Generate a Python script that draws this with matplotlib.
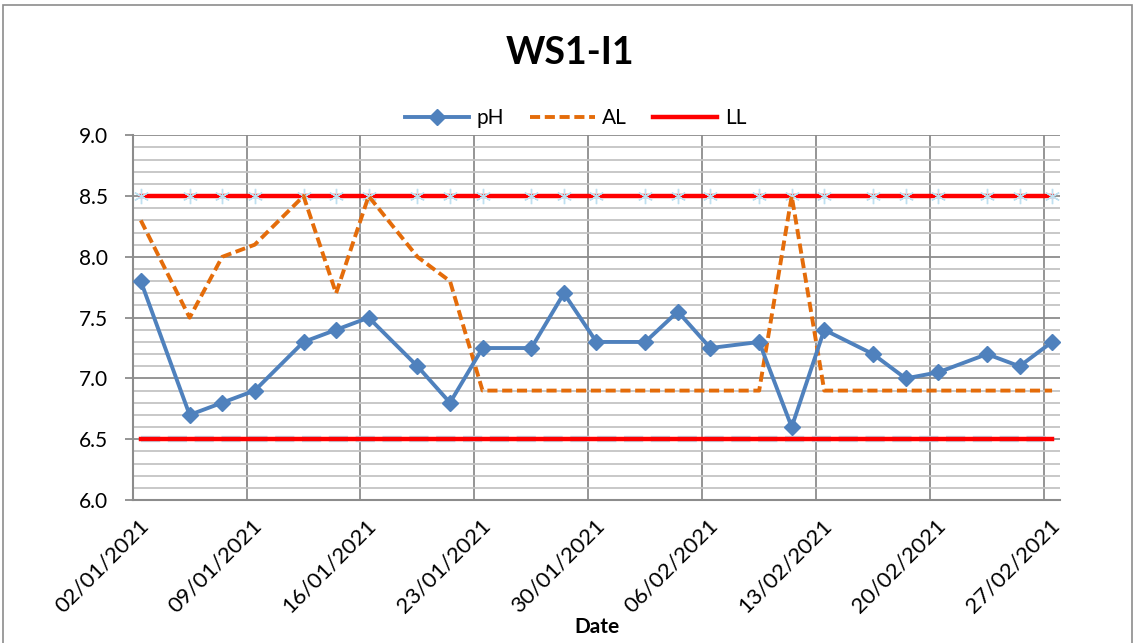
"""WS1-I1 pH record against the action level and the upper/lower limits."""

import numpy as np
import pandas as pd
import matplotlib
matplotlib.use("Agg")
import matplotlib.pyplot as plt
import matplotlib.dates as mdates
import matplotlib.transforms as mtransforms
from matplotlib.lines import Line2D
from matplotlib.patches import Rectangle
from matplotlib.ticker import MultipleLocator

plt.rcParams["font.family"] = ["Lato", "DejaVu Sans"]

# sampling dates (dd/mm/yyyy)
DATES = ["02/01/2021", "05/01/2021", "07/01/2021", "09/01/2021", "12/01/2021",
         "14/01/2021", "16/01/2021", "19/01/2021", "21/01/2021", "23/01/2021",
         "26/01/2021", "28/01/2021", "30/01/2021", "02/02/2021", "04/02/2021",
         "06/02/2021", "09/02/2021", "11/02/2021", "13/02/2021", "16/02/2021",
         "18/02/2021", "20/02/2021", "23/02/2021", "25/02/2021", "27/02/2021"]
PH = [7.8, 6.7, 6.8, 6.9, 7.3, 7.4, 7.5, 7.1, 6.8, 7.25,
      7.25, 7.7, 7.3, 7.3, 7.55, 7.25, 7.3, 6.6, 7.4, 7.2,
      7.0, 7.05, 7.2, 7.1, 7.3]
AL = [8.3, 7.5, 8.0, 8.1, 8.5, 7.7, 8.5, 8.0, 7.8, 6.9,
      6.9, 6.9, 6.9, 6.9, 6.9, 6.9, 6.9, 8.5, 6.9, 6.9,
      6.9, 6.9, 6.9, 6.9, 6.9]
UPPER_LIMIT = [8.5] * len(DATES)
LOWER_LIMIT = [6.5] * len(DATES)

X_MIN, X_MAX = "02/01/2021", "28/02/2021"

BLUE = "#4f81bd"
ORANGE = "#e46c0a"
RED = "#ff0000"
PALE = "#bfe0f0"
GRID_MAJOR = "#8c8c8c"
GRID_MINOR = "#c4c4c4"
AL_DASH = (0, (2.6, 1.2))

d = pd.to_datetime(DATES, format="%d/%m/%Y")
# Excel's date axis puts each point in the middle of its day
x = d + pd.Timedelta(hours=12)
x0 = pd.to_datetime(X_MIN, format="%d/%m/%Y")
x1 = pd.to_datetime(X_MAX, format="%d/%m/%Y")

fig = plt.figure(figsize=(11.35, 6.43), dpi=100)
ax = fig.add_axes([0.1169, 0.2224, 0.8172, 0.5672])

ax.plot(x, UPPER_LIMIT, color=RED, lw=3.2, zorder=3, marker=(6, 2, 0),
        ms=11, mec=PALE, mew=1.0)
ax.plot(x, LOWER_LIMIT, color=PALE, lw=4.6, ls=(0, (3, 1.2)), zorder=2)
ax.plot(x, LOWER_LIMIT, color=RED, lw=3.2, zorder=3)
ax.plot(x, AL, color=ORANGE, lw=2.8, ls=AL_DASH, zorder=4)
ax.plot(x, PH, color=BLUE, lw=2.8, marker="D", ms=8.5, zorder=5)

ax.set_ylim(6.0, 9.0)
ax.yaxis.set_major_locator(MultipleLocator(0.5))
ax.yaxis.set_minor_locator(MultipleLocator(0.1))
ax.yaxis.set_major_formatter(lambda v, p: f"{v:.1f}")

ax.set_xlim(x0, x1)
ax.set_xticks(pd.date_range(x0, periods=9, freq="7D"))
ax.xaxis.set_major_formatter(mdates.DateFormatter("%d/%m/%Y"))

ax.grid(True, which="major", color=GRID_MAJOR, lw=1.3)
ax.grid(True, which="minor", axis="y", color=GRID_MINOR, lw=1.3)
ax.set_axisbelow(True)
for s in ("top", "right"):
    ax.spines[s].set_visible(False)
for s in ("left", "bottom"):
    ax.spines[s].set_color(GRID_MAJOR)
    ax.spines[s].set_linewidth(1.5)
ax.tick_params(axis="y", which="major", length=6, width=1.3, color=GRID_MAJOR,
               labelsize=15, pad=12)
ax.tick_params(axis="y", which="minor", length=0)
ax.tick_params(axis="x", length=0, labelsize=16, pad=11)
shift = mtransforms.ScaledTranslation(4 / 72, 0, fig.dpi_scale_trans)
for lab in ax.get_xticklabels():
    lab.set_rotation(45)
    lab.set_ha("right")
    lab.set_rotation_mode("anchor")
    lab.set_transform(lab.get_transform() + shift)

fig.text(0.526, 0.025, "Date", ha="center", va="center", fontsize=15,
         fontweight="bold")
fig.text(0.502, 0.918, "WS1-I1", ha="center", va="center", fontsize=27,
         fontweight="bold")

handles = [Line2D([], [], color=BLUE, lw=2.8, marker="D", ms=8.5),
           Line2D([], [], color=ORANGE, lw=2.8, ls=AL_DASH),
           Line2D([], [], color=RED, lw=3.2)]
fig.legend(handles, ["pH", "AL", "LL"], loc="center", ncol=3, frameon=False,
           bbox_to_anchor=(0.507, 0.816), fontsize=15, handlelength=3.1,
           columnspacing=1.25, handletextpad=0.35)

fig.add_artist(Rectangle((0.003, -0.01), 0.994, 1.002, transform=fig.transFigure,
                         fill=False, edgecolor="#8c8c8c", lw=1.2))

fig.savefig("out.png", dpi=100)
